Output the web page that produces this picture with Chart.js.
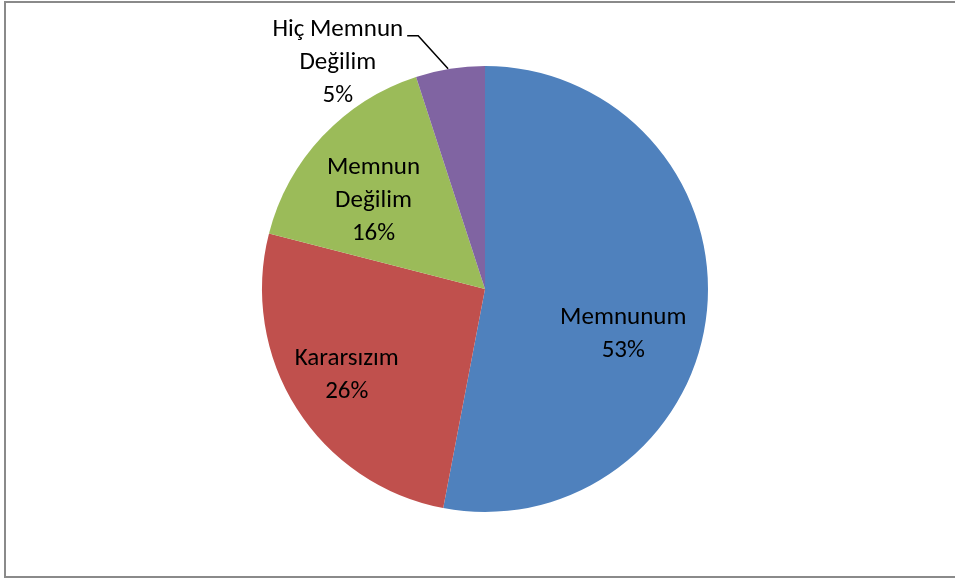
<!DOCTYPE html>
<html>
<head>
<meta charset="utf-8">
<script src="https://cdn.jsdelivr.net/npm/chart.js@4.4.0/dist/chart.umd.min.js"></script>
<style>
  body { margin: 0; background: #fff; }
  #wrap { position: relative; width: 955px; height: 579px; overflow: hidden; }
  #frame { position: absolute; left: 4px; top: 1px; width: 970px; height: 577px; border: 2px solid #8a8a8a; box-sizing: border-box; }
  canvas { position: absolute; left: 0; top: 0; }
</style>
</head>
<body>
<div id="wrap">
  <div id="frame"></div>
  <canvas id="myChart" width="955" height="579"></canvas>
</div>
<script>
const ctx = document.getElementById('myChart');

const labels = [['Memnunum'], ['Kararsızım'], ['Memnun', 'Değilim'], ['Hiç Memnun', 'Değilim']]
const values = [53, 26, 16, 5]
const colors = ['#4F81BD', '#C0504D', '#9BBB59', '#8064A2']

// label anchor, as fraction of the radius from the pie centre
const labelSpots = [[0.62, 0.205], [-0.62, 0.385], [-0.50, -0.395], [-0.66, -1.015]]

const pieLabels = {
  id: 'pieLabels',
  afterDatasetsDraw(chart) {
    const c = chart.ctx
    const arcs = chart.getDatasetMeta(0).data
    c.save()
    c.font = '25px Carlito, Lato, sans-serif'
    c.fillStyle = '#000'
    c.textAlign = 'center'
    c.textBaseline = 'middle'
    arcs.forEach((arc, i) => {
      const r = arc.outerRadius
      const x = arc.x + labelSpots[i][0] * r
      const y = arc.y + labelSpots[i][1] * r
      const lines = labels[i].concat([values[i] + '%'])
      const lh = 33
      lines.forEach((t, j) => {
        c.fillText(t, x, y + (j - (lines.length - 1) / 2) * lh)
      })
      // leader line for the small slice
      if (i === 3) {
        const mid = (arc.startAngle + arc.endAngle) / 2
        const ex = arc.x + Math.cos(mid) * r
        const ey = arc.y + Math.sin(mid) * r
        const w = c.measureText(labels[i][0]).width
        const ly = y - lh
        c.beginPath()
        c.strokeStyle = '#000'
        c.lineWidth = 1.5
        c.moveTo(x + w / 2 + 4, ly + 6)
        c.lineTo(x + w / 2 + 15, ly + 6)
        c.lineTo(ex - 2, ey)
        c.stroke()
      }
    })
    c.restore()
  }
}

new Chart(ctx, {
  type: 'pie',
  data: {
    labels: labels.map(l => l.join(' ')),
    datasets: [{
      data: values,
      backgroundColor: colors,
      borderWidth: 0
    }]
  },
  options: {
    responsive: false,
    animation: false,
    layout: {
      padding: { left: 262, right: 247, top: 66, bottom: 67 }
    },
    plugins: {
      legend: { display: false },
      tooltip: { enabled: false }
    }
  },
  plugins: [pieLabels]
});
</script>
</body>
</html>
